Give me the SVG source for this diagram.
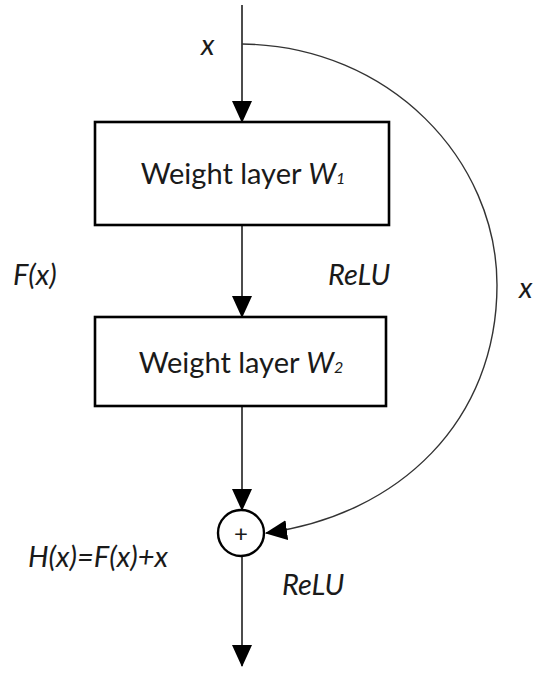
<svg xmlns="http://www.w3.org/2000/svg" width="550" height="675" viewBox="0 0 550 675">
<style>
.box{fill:#fff;stroke:#000;stroke-width:2.6}
.ln{fill:none;stroke:#111;stroke-width:1.5}
.cv{fill:none;stroke:#333;stroke-width:1.4}
text{font-family:Lato,"Open Sans","Liberation Sans",sans-serif;fill:#1a1a1a}
.lbl{font-size:29px}
.it{font-style:italic;font-size:29px}
</style>
<defs>
<marker id="ah" markerUnits="userSpaceOnUse" markerWidth="22" markerHeight="20" refX="21" refY="10" orient="auto" viewBox="0 0 22 20">
<path d="M0,0 L22,10 L0,20 Z" fill="#000"/>
</marker>
</defs>
<rect width="550" height="675" fill="#fff"/>
<g id="connectors">
<line class="ln" x1="242" y1="5" x2="242" y2="122" marker-end="url(#ah)"/>
<line class="ln" x1="242" y1="225" x2="242" y2="317" marker-end="url(#ah)"/>
<line class="ln" x1="242" y1="406" x2="242" y2="510" marker-end="url(#ah)"/>
<line class="ln" x1="242" y1="557" x2="242" y2="666" marker-end="url(#ah)"/>
<path class="cv" d="M242,44 C390,46 497,160 497,285 C497,420 400,515 266,533" marker-end="url(#ah)"/>
</g>
<g id="box1">
<rect class="box" x="95" y="122" width="294" height="103"/>
<text class="lbl" x="243" y="184" text-anchor="middle">Weight layer <tspan font-style="italic">W</tspan><tspan font-style="italic" font-size="16">1</tspan></text>
</g>
<g id="box2">
<rect class="box" x="95" y="317" width="291" height="89"/>
<text class="lbl" x="241" y="373" text-anchor="middle">Weight layer <tspan font-style="italic">W</tspan><tspan font-style="italic" font-size="16">2</tspan></text>
</g>
<g id="sum">
<circle cx="241" cy="533" r="23" fill="#fff" stroke="#000" stroke-width="2.4"/>
<text x="241" y="542" text-anchor="middle" font-size="24">+</text>
</g>
<g id="labels">
<text class="it" x="201" y="55">x</text>
<text class="it" x="13" y="285">F(x)</text>
<text class="it" x="328" y="285">ReLU</text>
<text class="it" x="519" y="298">x</text>
<text class="it" x="28" y="567">H(x)=F(x)+x</text>
<text class="it" x="282" y="595">ReLU</text>
</g>
</svg>
